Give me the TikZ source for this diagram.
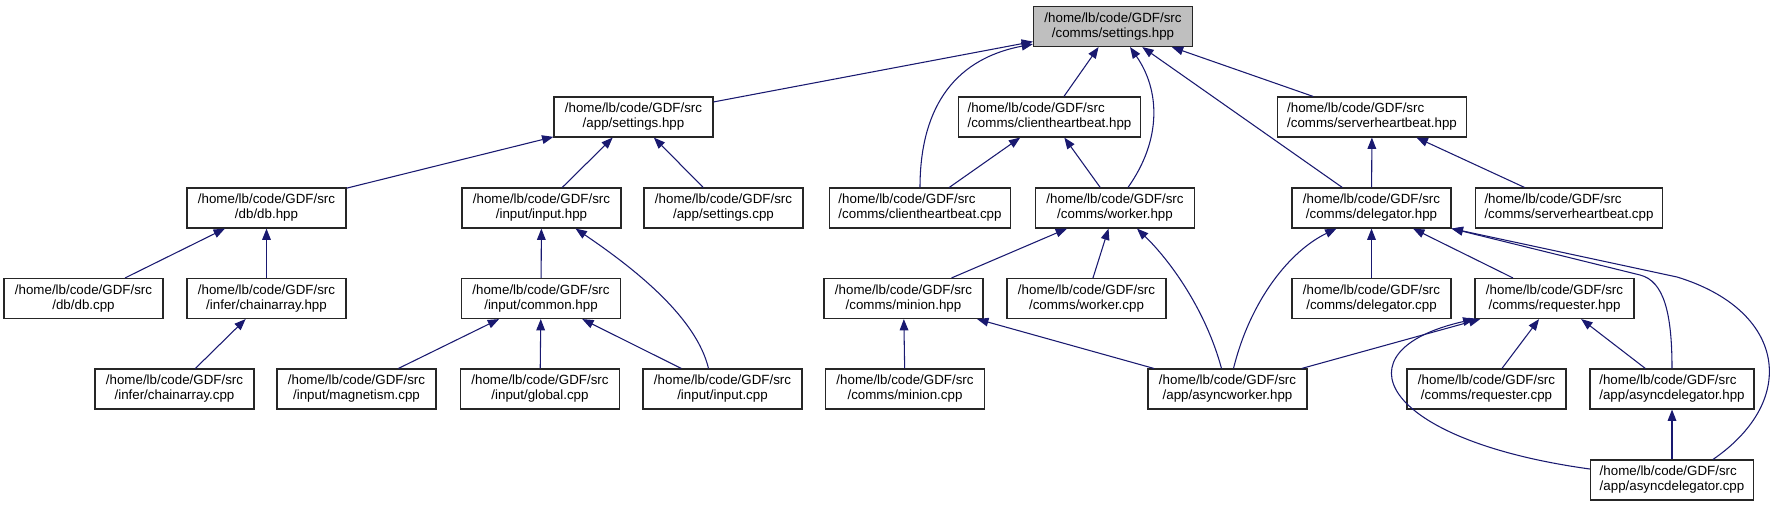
\documentclass[tikz,border=0pt]{standalone}
\usepackage{fontspec}
\setmainfont{Liberation Sans}
\usetikzlibrary{arrows.meta,calc}
\definecolor{dxblue}{HTML}{191970}
\definecolor{rootfill}{HTML}{BFBFBF}

\begin{document}
\begin{tikzpicture}[x=0.75pt, y=-0.75pt,
  st/.style={draw=black!85, line width=0.85pt, fill=white, align=center, font=\fontsize{10pt}{11.25pt}\selectfont, minimum height=30pt, minimum width=119.25pt, inner xsep=7pt, inner ysep=2pt},
  stl/.style={st, align=left},
  root/.style={st, fill=rootfill},
  arr/.style={-{Triangle[length=8.5pt, width=6.5pt]}, line width=0.8pt, dxblue}]
  \useasboundingbox (0,0) rectangle (1780,507);
  \node[root] (cset) at (1113,26.5) {/home/lb/code/GDF/src\\/comms/settings.hpp};
  \node[st] (aset) at (633.5,117) {/home/lb/code/GDF/src\\/app/settings.hpp};
  \node[stl] (chb) at (1049.5,117) {/home/lb/code/GDF/src\\/comms/clientheartbeat.hpp};
  \node[stl] (shb) at (1372,117) {/home/lb/code/GDF/src\\/comms/serverheartbeat.hpp};
  \node[st] (db) at (266.5,208) {/home/lb/code/GDF/src\\/db/db.hpp};
  \node[st] (inp) at (541.5,208) {/home/lb/code/GDF/src\\/input/input.hpp};
  \node[st] (asetc) at (723.5,208) {/home/lb/code/GDF/src\\/app/settings.cpp};
  \node[stl] (chbc) at (920,208) {/home/lb/code/GDF/src\\/comms/clientheartbeat.cpp};
  \node[st] (wrk) at (1115,208) {/home/lb/code/GDF/src\\/comms/worker.hpp};
  \node[st] (dlg) at (1371.5,208) {/home/lb/code/GDF/src\\/comms/delegator.hpp};
  \node[stl] (shbc) at (1569,208) {/home/lb/code/GDF/src\\/comms/serverheartbeat.cpp};
  \node[st] (dbc) at (83.5,298.5) {/home/lb/code/GDF/src\\/db/db.cpp};
  \node[st] (cha) at (266.5,298.5) {/home/lb/code/GDF/src\\/infer/chainarray.hpp};
  \node[st] (com) at (541,298.5) {/home/lb/code/GDF/src\\/input/common.hpp};
  \node[st] (mnn) at (903.5,298.5) {/home/lb/code/GDF/src\\/comms/minion.hpp};
  \node[st] (wrkc) at (1086.5,298.5) {/home/lb/code/GDF/src\\/comms/worker.cpp};
  \node[st] (dlgc) at (1371.5,298.5) {/home/lb/code/GDF/src\\/comms/delegator.cpp};
  \node[st] (req) at (1554.5,298.5) {/home/lb/code/GDF/src\\/comms/requester.hpp};
  \node[st] (chac) at (174.5,389) {/home/lb/code/GDF/src\\/infer/chainarray.cpp};
  \node[st] (mag) at (356.5,389) {/home/lb/code/GDF/src\\/input/magnetism.cpp};
  \node[st] (glb) at (540,389) {/home/lb/code/GDF/src\\/input/global.cpp};
  \node[st] (inpc) at (722.5,389) {/home/lb/code/GDF/src\\/input/input.cpp};
  \node[st] (mnnc) at (905,389) {/home/lb/code/GDF/src\\/comms/minion.cpp};
  \node[st] (awk) at (1227.5,389) {/home/lb/code/GDF/src\\/app/asyncworker.hpp};
  \node[st] (reqc) at (1486.5,389) {/home/lb/code/GDF/src\\/comms/requester.cpp};
  \node[stl] (adh) at (1672,389) {/home/lb/code/GDF/src\\/app/asyncdelegator.hpp};
  \node[stl] (adc) at (1672,480) {/home/lb/code/GDF/src\\/app/asyncdelegator.cpp};
  \draw[arr] (aset) -- (cset); \draw[arr] (chb) -- (cset); \draw[arr] (dlg) -- (cset); \draw[arr] (shb) -- (cset);
  \draw[arr] (db) -- (aset); \draw[arr] (inp) -- (aset); \draw[arr] (asetc) -- (aset);
  \draw[arr] (chbc) -- (chb); \draw[arr] (wrk) -- (chb);
  \draw[arr] (dlg) -- (shb); \draw[arr] (shbc) -- (shb);
  \draw[arr] (dbc) -- (db); \draw[arr] (cha) -- (db); \draw[arr] (chac) -- (cha);
  \draw[arr] (com) -- (inp);
  \draw[arr] (mag) -- (com); \draw[arr] (glb) -- (com); \draw[arr] (inpc) -- (com);
  \draw[arr] (mnn) -- (wrk); \draw[arr] (wrkc) -- (wrk);
  \draw[arr] (dlgc) -- (dlg); \draw[arr] (req) -- (dlg);
  \draw[arr] (awk) -- (req); \draw[arr] (reqc) -- (req); \draw[arr] (adh) -- (req);
  \draw[arr] (mnnc) -- (mnn); \draw[arr] (awk) -- (mnn);
  \draw[arr] (adc) -- (adh);
  \draw[arr] (chbc.north) .. controls +(0,-73) and +(-84,16) .. ($(cset.south west)+(0,-3)$);
  \draw[arr] ($(wrk.north)+(13,0)$) .. controls +(34,-48) and +(30,43) .. ($(cset.south)+(17,0)$);
  \draw[arr] ($(inpc.north)+(-14,0)$) .. controls +(-12,-50) and +(62,42) .. ($(inp.south)+(34,0)$);
  \draw[arr] ($(awk.north)+(-6,0)$) .. controls +(-16,-59) and +(33,32) .. ($(wrk.south)+(22,0)$);
  \draw[arr] ($(awk.north)+(6,0)$) .. controls +(17,-69) and +(-46,22) .. ($(dlg.south)+(-35,0)$);
  \draw[arr] (adh.north) .. controls +(0,-55) and +(24,6) .. (1640,275) -- (dlg.south east);
  \draw[arr] ($(adc.north)+(41,0)$) .. controls +(87,-60) and +(108,33) .. (1677,277) -- (dlg.south east);
  \draw[arr] ($(adc.west)+(0,-11)$) .. controls +(-210,-29) and +(-140,31.5) .. (req.south west);
\end{tikzpicture}
\end{document}
